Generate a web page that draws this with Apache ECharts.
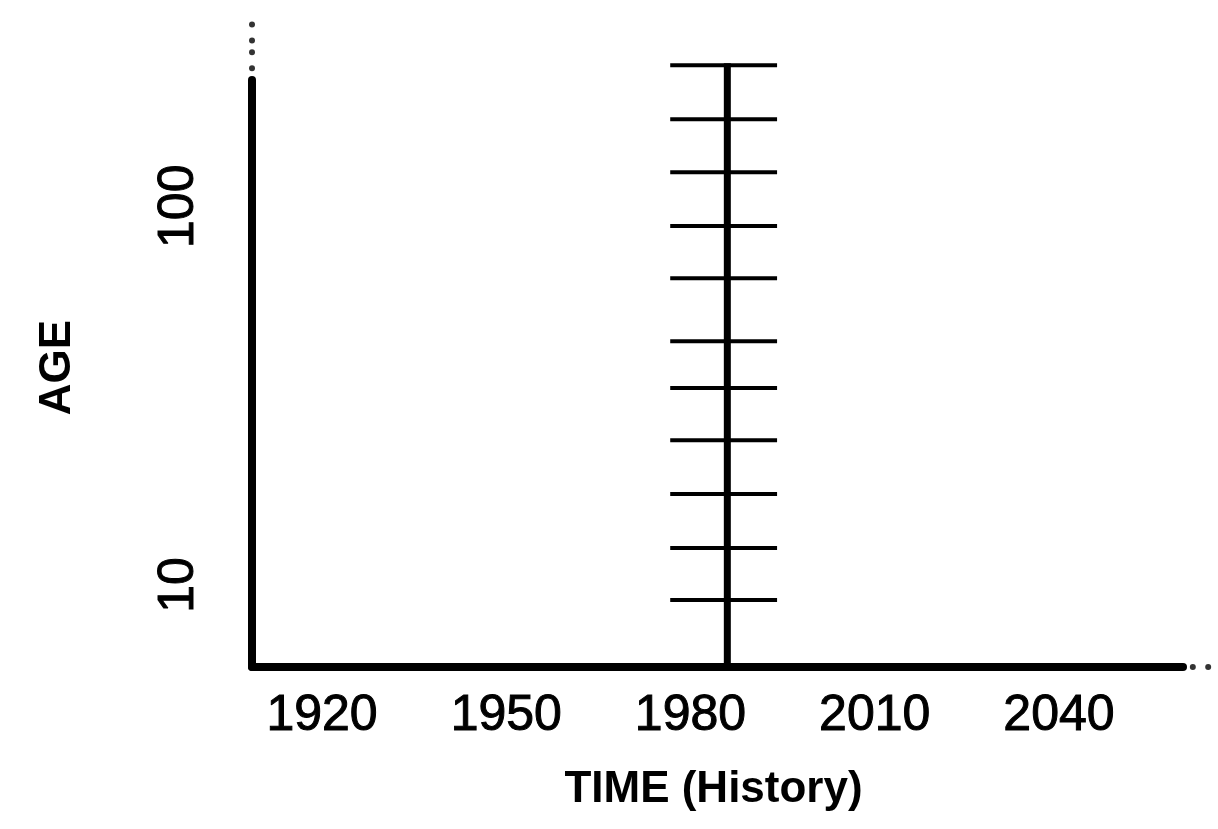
<!DOCTYPE html>
<html>
<head>
<meta charset="utf-8">
<script src="https://cdn.jsdelivr.net/npm/echarts@6/dist/echarts.min.js"></script>
<style>
html,body{margin:0;padding:0;background:#fff;}
#c{width:1218px;height:829px;}
</style>
</head>
<body>
<div id="c"></div>
<script>
// Time axis (history)
const timeLabels = [1920, 1950, 1980, 2010, 2040];
const timeMin = 1908.6;
const timeMax = 2060.2;
// Age axis
const ageLabels = [10, 100];
const ageMin = -9.5;
const ageMax = 130;
// Cohort line observed in one year, with age marks
const observationYear = 1986;
const lineTopAge = 134;
const ageMarks = [6.4, 18.8, 31.6, 44.4, 56.8, 67.9, 82.9, 95.3, 108.1, 120.7, 133.5];
const markFrom = 1976.7;
const markTo = 1994.1;
// continuation dots beyond the axes
const ageDots = [143.2, 139.4, 136.6, 132.8];
const timeDots = [2061.8, 2064.3];

const FONT = "'Liberation Sans', Arial, Helvetica, sans-serif";
const chart = echarts.init(document.getElementById('c'), null, {renderer: 'canvas'});

chart.setOption({
  backgroundColor: '#fff',
  animation: false,
  grid: {left: 252, right: 35, top: 80, bottom: 162, containLabel: false},
  xAxis: {
    type: 'value',
    min: timeMin,
    max: timeMax,
    name: 'TIME (History)',
    nameLocation: 'middle',
    nameGap: 101,
    nameTextStyle: {fontFamily: FONT, fontSize: 44, fontWeight: 'bold', color: '#000', padding: [0, 8, 0, 0]},
    axisLine: {show: true, onZero: false, lineStyle: {color: '#000', width: 8}},
    axisTick: {show: false},
    splitLine: {show: false},
    axisLabel: {
      customValues: timeLabels,
      fontFamily: FONT, fontSize: 50, color: '#000', margin: 24,
      textBorderColor: '#000', textBorderWidth: 1,
      formatter: v => String(v)
    }
  },
  yAxis: {
    type: 'value',
    min: ageMin,
    max: ageMax,
    name: 'AGE',
    nameLocation: 'middle',
    nameRotate: 90,
    nameGap: 172,
    nameTextStyle: {fontFamily: FONT, fontSize: 44, fontWeight: 'bold', color: '#000', padding: [0, 0, 0, 12]},
    axisLine: {show: true, onZero: false, lineStyle: {color: '#000', width: 8}},
    axisTick: {show: false},
    splitLine: {show: false},
    axisLabel: {
      customValues: ageLabels,
      rotate: 90,
      fontFamily: FONT, fontSize: 50, color: '#000', margin: 48,
      textBorderColor: '#000', textBorderWidth: 1,
      formatter: v => String(v)
    }
  },
  series: [
    {
      type: 'line',
      clip: false,
      symbol: 'none',
      silent: true,
      lineStyle: {color: '#000', width: 7},
      data: [[observationYear, ageMin], [observationYear, lineTopAge]],
      z: 5
    },
    {
      type: 'custom',
      clip: false,
      silent: true,
      data: ageMarks.map(a => [a]),
      renderItem: function (params, api) {
        const age = api.value(0);
        const p1 = api.coord([markFrom, age]);
        const p2 = api.coord([markTo, age]);
        return {
          type: 'line',
          shape: {x1: p1[0], y1: p1[1], x2: p2[0], y2: p2[1]},
          style: {stroke: '#000', lineWidth: 4}
        };
      },
      z: 4
    },
    {
      type: 'scatter',
      clip: false,
      silent: true,
      symbol: 'circle',
      symbolSize: 6,
      itemStyle: {color: '#000'},
      data: ageDots.map(a => [timeMin, a]).concat(timeDots.map(t => [t, ageMin]))
    }
  ]
});
</script>
</body>
</html>
